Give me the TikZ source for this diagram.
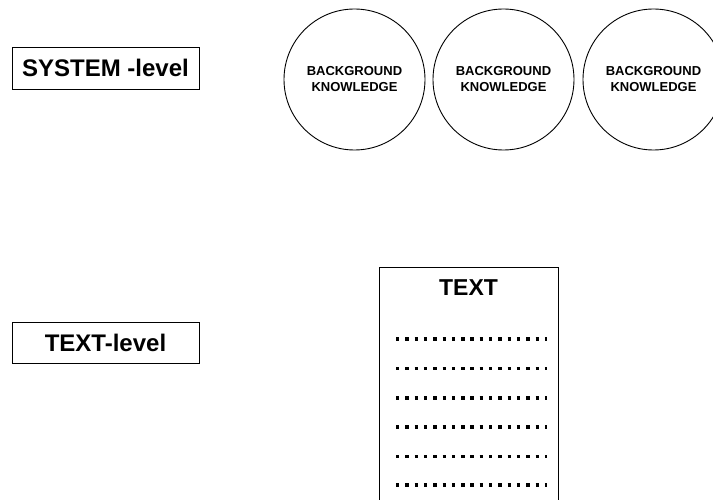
\documentclass[tikz,border=0pt]{standalone}
\usepackage{fontspec}
\setmainfont{Liberation Sans}
\begin{document}
\begin{tikzpicture}[x=1pt,y=-1pt,
  levelbox/.style={draw,line width=0.9pt,minimum width=187pt,minimum height=42pt,inner sep=0pt,font=\fontsize{24}{26}\selectfont\bfseries},
  bgcircle/.style={draw,circle,line width=0.9pt,minimum size=141pt,inner sep=0pt,align=center,font=\fontsize{13}{16}\selectfont\bfseries},
  dotline/.style={line width=3.4pt,dash pattern=on 3.4pt off 5.9pt}]
\useasboundingbox (0,0) rectangle (713,500);
\clip (0,0) rectangle (713,500);
\node[levelbox] (sys) at (105.5,68) {SYSTEM -level};
\node[levelbox,minimum height=41pt] (txtl) at (105.5,342.5) {TEXT-level};
\node[bgcircle] (bg1) at (354.5,79.5) {BACKGROUND\\KNOWLEDGE};
\node[bgcircle] (bg2) at (503.5,79.5) {BACKGROUND\\KNOWLEDGE};
\node[bgcircle] (bg3) at (653.5,79.5) {BACKGROUND\\KNOWLEDGE};
\draw[line width=0.9pt] (379,520) -- (379,267) -- (558,267) -- (558,520);
\node[font=\fontsize{23}{26}\selectfont\bfseries,inner sep=0pt] (title) at (468.5,288) {TEXT};
\foreach \yy in {339,368.5,398,427,456.5,485}
  \draw[dotline] (396,\yy) -- (547,\yy);
\end{tikzpicture}
\end{document}
